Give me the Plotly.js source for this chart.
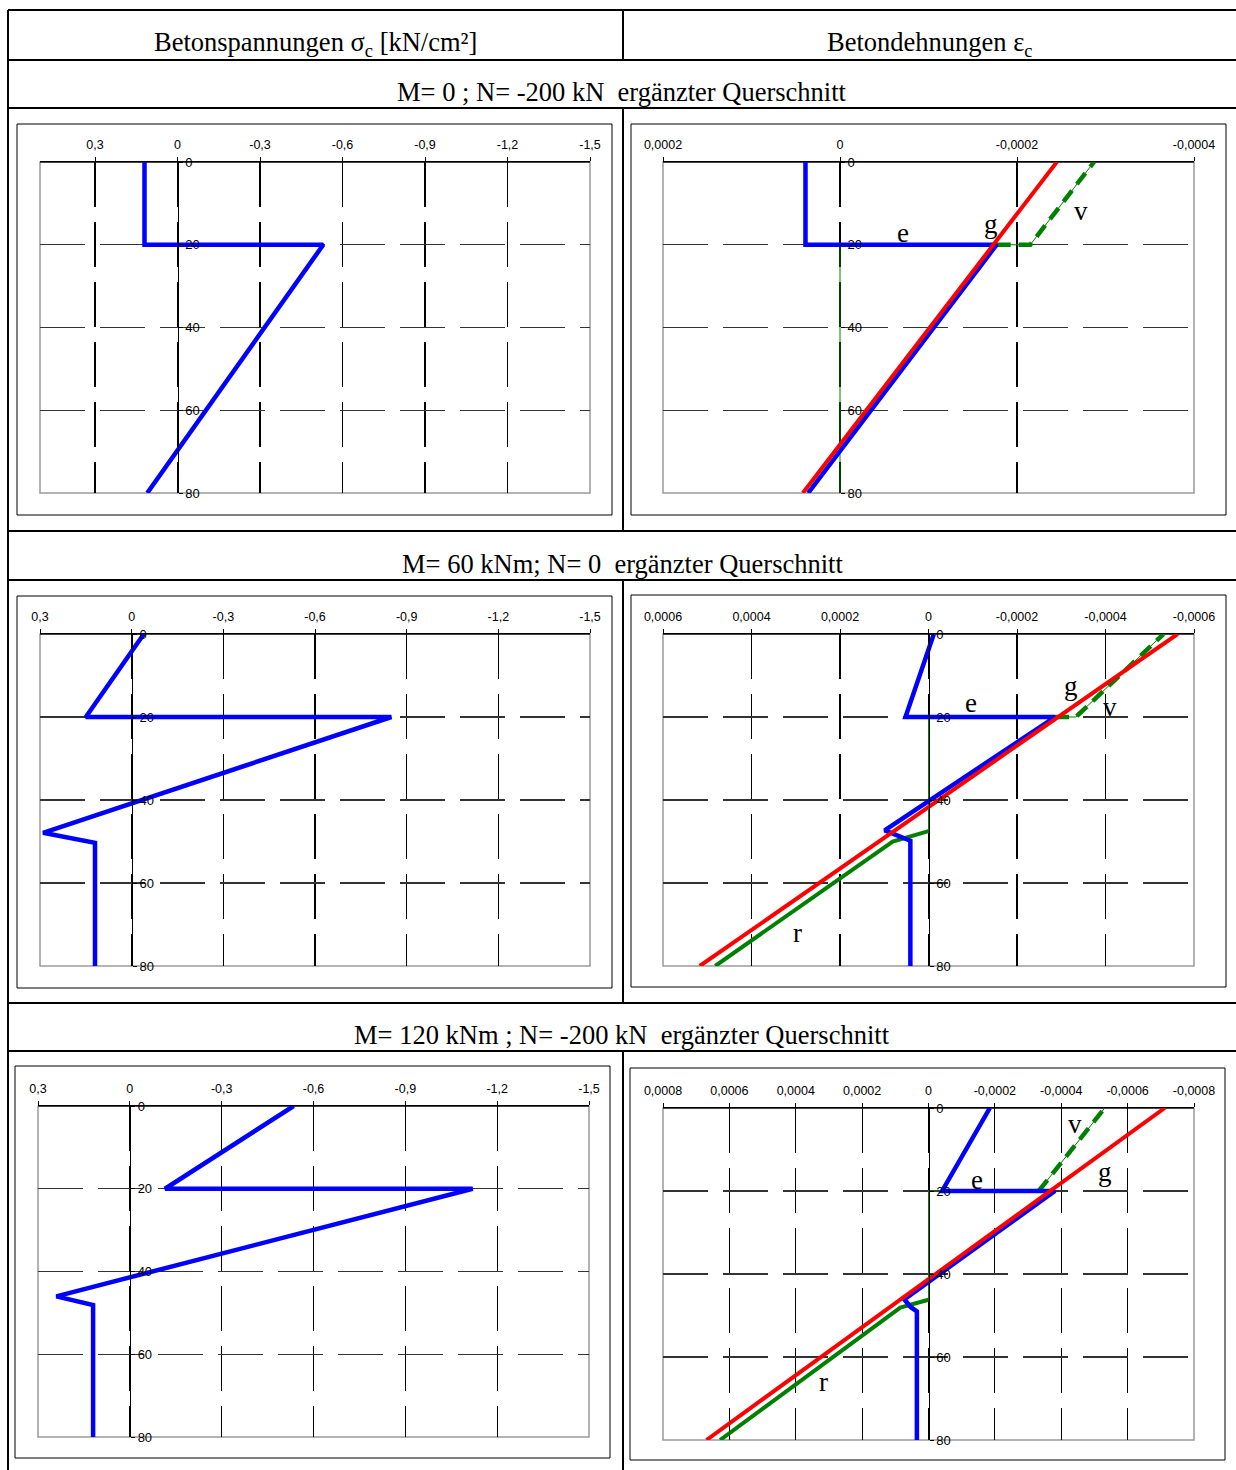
<!DOCTYPE html>
<html><head><meta charset="utf-8">
<script src="https://cdn.plot.ly/plotly-3.0.1.min.js"></script>
<style>html,body{margin:0;padding:0;background:#fff}#chart{width:1236px;height:1470px}</style>
</head><body><div id="chart"></div>
<script>
// ---------- tick labels ----------
const depthTicks = [0, 20, 40, 60, 80];
const depthTickText = ['0', '20', '40', '60', '80'];
const stressTickVals = [0.3, 0, -0.3, -0.6, -0.9, -1.2, -1.5];
const stressTickText = ['0,3', '0', '-0,3', '-0,6', '-0,9', '-1,2', '-1,5'];
const strainTickVals1 = [0.0002, 0, -0.0002, -0.0004];
const strainTickText1 = ['0,0002', '0', '-0,0002', '-0,0004'];
const strainTickVals2 = [0.0006, 0.0004, 0.0002, 0, -0.0002, -0.0004, -0.0006];
const strainTickText2 = ['0,0006', '0,0004', '0,0002', '0', '-0,0002', '-0,0004', '-0,0006'];
const strainTickVals3 = [0.0008, 0.0006, 0.0004, 0.0002, 0, -0.0002, -0.0004, -0.0006, -0.0008];
const strainTickText3 = ['0,0008', '0,0006', '0,0004', '0,0002', '0', '-0,0002', '-0,0004', '-0,0006', '-0,0008'];

// ---------- texts ----------
const headerLeft = 'Betonspannungen σ<sub>c</sub> [kN/cm²]';
const headerRight = 'Betondehnungen ε<sub>c</sub>';
const caseTitles = [
  'M= 0 ; N= -200 kN\u00a0 ergänzter Querschnitt',
  'M= 60 kNm; N= 0\u00a0 ergänzter Querschnitt',
  'M= 120 kNm ; N= -200 kN\u00a0 ergänzter Querschnitt'
];

// ---------- stresses sigma_c [kN/cm²] over depth [cm] ----------
const sigDepth1 = [0, 20, 20, 80];
const sigVal1   = [0.12, 0.12, -0.53, 0.11];
const sigDepth2 = [0, 20, 20, 47.9, 50.3, 80];
const sigVal2   = [-0.04, 0.15, -0.85, 0.29, 0.12, 0.12];
const sigDepth3 = [0, 20, 20, 46.0, 48.1, 80];
const sigVal3   = [-0.535, -0.115, -1.12, 0.24, 0.12, 0.12];

// ---------- strains, case 1 (M=0; N=-200) ----------
const eDepth1 = [0, 20, 20, 80];
const eVal1   = [3.9e-5, 3.9e-5, -1.77e-4, 3.6e-5];
const mDepth1 = [0, 19, 20, 20, 80];
const mVal1   = [3.9e-5, 3.9e-5, 3.6e-5, -1.77e-4, 3.6e-5];
const gDepth1 = [0, 80];
const gVal1   = [-2.45e-4, 4.2e-5];
const vDepth1 = [20, 20, 0];
const vVal1   = [-1.77e-4, -2.15e-4, -2.87e-4];
const rThinDepth1 = [20, 80];
const rThinVal1   = [0, 0];
const rDepth1 = [];
const rVal1   = [];

// ---------- strains, case 2 (M=60; N=0) ----------
const eDepth2 = [0, 20, 20, 47.3, 49.8, 80];
const eVal2   = [-1.2e-5, 5.2e-5, -2.86e-4, 9.9e-5, 4.1e-5, 4.1e-5];
const mDepth2 = [0, 20, 20, 47.3, 49.8, 80];
const mVal2   = [-1.2e-5, 5.0e-5, -2.86e-4, 9.9e-5, 4.1e-5, 4.1e-5];
const gDepth2 = [0, 80];
const gVal2   = [-5.63e-4, 5.17e-4];
const vDepth2 = [20, 20, 0];
const vVal2   = [-2.86e-4, -3.33e-4, -5.31e-4];
const rThinDepth2 = [20, 47.5];
const rThinVal2   = [0, 0];
const rDepth2 = [47.5, 50, 80];
const rVal2   = [0, 8.1e-5, 4.82e-4];

// ---------- strains, case 3 (M=120; N=-200) ----------
const eDepth3 = [0, 20, 20, 46.1, 48.0, 49.0, 80];
const eVal3   = [-1.85e-4, -4.1e-5, -3.81e-4, 7.3e-5, 5.3e-5, 3.5e-5, 3.5e-5];
const mDepth3 = [0, 20, 20, 46.1, 49.0, 80];
const mVal3   = [-1.83e-4, -4.3e-5, -3.81e-4, 7.3e-5, 3.5e-5, 3.5e-5];
const gDepth3 = [0, 80];
const gVal3   = [-7.12e-4, 6.69e-4];
const vDepth3 = [20, 0];
const vVal3   = [-3.32e-4, -5.31e-4];
const rThinDepth3 = [20, 20, 46.2];
const rThinVal3   = [-4.1e-5, 0, 0];
const rDepth3 = [46.2, 48.1, 80];
const rVal3   = [0, 8.5e-5, 6.28e-4];

// ---------- curve labels ----------
const labelText1 = ['e', 'g', 'v'];
const labelX1 = [-0.71e-4, -1.71e-4, -2.72e-4];
const labelY1 = [17.2, 15.0, 11.8];
const labelText2 = ['e', 'g', 'v', 'r'];
const labelX2 = [-0.96e-4, -3.23e-4, -4.11e-4, 2.96e-4];
const labelY2 = [16.6, 12.5, 17.6, 72.0];
const labelText3 = ['v', 'e', 'g', 'r'];
const labelX3 = [-4.4e-4, -1.45e-4, -5.33e-4, 3.16e-4];
const labelY3 = [3.9, 17.3, 15.4, 66.0];

// ================= layout helpers (pixel -> paper) =================
const W = 1236, H = 1470;
const fx = p => p / W;
const fy = p => 1 - p / H;

const panels = [
  {box: [17, 124, 612, 515],  plot: [40, 162, 590, 493],  range: [0.5, -1.5],        tv: stressTickVals,  tt: stressTickText,  showY: true},
  {box: [17, 596, 612, 988],  plot: [40, 634, 590, 966],  range: [0.3, -1.5],        tv: stressTickVals,  tt: stressTickText,  showY: true},
  {box: [15, 1066, 610, 1458], plot: [38, 1106, 589, 1437], range: [0.3, -1.5],      tv: stressTickVals,  tt: stressTickText,  showY: true},
  {box: [631, 124, 1226, 515], plot: [663, 162, 1194, 493], range: [0.0002, -0.0004], tv: strainTickVals1, tt: strainTickText1, showY: false},
  {box: [631, 595, 1226, 987], plot: [663, 634, 1194, 966], range: [0.0006, -0.0006], tv: strainTickVals2, tt: strainTickText2, showY: true},
  {box: [630, 1068, 1225, 1460], plot: [663, 1108, 1194, 1440], range: [0.0008, -0.0008], tv: strainTickVals3, tt: strainTickText3, showY: true}
];

const tickFont = {family: 'Liberation Sans, Arial, sans-serif', size: 12.5, color: '#000'};
const serif = 'Liberation Serif, Times New Roman, serif';

const layout = {
  width: W, height: H,
  margin: {l: 0, r: 0, t: 0, b: 0},
  paper_bgcolor: '#fff', plot_bgcolor: '#fff',
  showlegend: false,
  shapes: [], annotations: []
};

panels.forEach((p, i) => {
  const n = i === 0 ? '' : String(i + 1);
  const xd = [fx(p.plot[0]), fx(p.plot[2])];
  const yd = [fy(p.plot[3]), fy(p.plot[1])];
  const zeroPos = xd[0] + (0 - p.range[0]) / (p.range[1] - p.range[0]) * (xd[1] - xd[0]);
  layout['xaxis' + n] = {
    domain: xd, range: p.range, anchor: 'y' + n, side: 'top',
    tickvals: p.tv, ticktext: p.tt, tickfont: tickFont,
    ticks: 'outside', ticklen: 4, tickcolor: '#000', ticklabelstandoff: 3,
    showgrid: true, gridcolor: '#000', gridwidth: 1.2, griddash: '45px,15px',
    showline: true, linecolor: '#000', linewidth: 1.5, mirror: false,
    zeroline: false, fixedrange: true
  };
  layout['yaxis' + n] = {
    domain: yd, range: [80, 0], anchor: 'free', position: zeroPos, side: 'right',
    tickvals: depthTicks, ticktext: depthTickText, tickfont: {family: tickFont.family, size: 13, color: '#000'},
    ticks: 'outside', ticklen: 4, tickcolor: '#000',
    showgrid: true, gridcolor: '#333', gridwidth: 1.2, griddash: '45px,15px',
    showline: p.showY, linecolor: '#000', linewidth: 1.2,
    zeroline: false, fixedrange: true
  };
  layout.shapes.push({type: 'rect', xref: 'x' + n + ' domain', yref: 'y' + n + ' domain', x0: 0, x1: 1, y0: 0, y1: 1,
    line: {color: '#9a9a9a', width: 1.5}, layer: 'below'});
  layout.shapes.push({type: 'line', xref: 'x' + n + ' domain', yref: 'y' + n + ' domain', x0: 0, x1: 1, y0: 1, y1: 1,
    line: {color: '#222', width: 1.5}, layer: 'below'});
  layout.shapes.push({type: 'rect', xref: 'paper', yref: 'paper', x0: fx(p.box[0]), x1: fx(p.box[2]), y0: fy(p.box[3]), y1: fy(p.box[1]),
    line: {color: '#000', width: 1}});
});

// ---------- table lines ----------
const tl = (x0, y0, x1, y1) => layout.shapes.push({type: 'line', xref: 'paper', yref: 'paper',
  x0: fx(x0), y0: fy(y0), x1: fx(x1), y1: fy(y1), line: {color: '#000', width: 2}});
[10, 60, 108, 531, 580, 1003, 1051].forEach(y => tl(8, y, 1236, y));
tl(8, 10, 8, 1470);
tl(623, 10, 623, 60);
tl(623, 108, 623, 531);
tl(623, 580, 623, 1003);
tl(623, 1051, 623, 1470);

// ---------- header texts ----------
const headFont = {family: serif, size: 26.5, color: '#000'};
const ha = (txt, x, y) => layout.annotations.push({text: txt, xref: 'paper', yref: 'paper', x: fx(x), y: fy(y),
  xanchor: 'center', yanchor: 'middle', showarrow: false, font: headFont});
ha(headerLeft, 315, 44);
ha(headerRight, 930, 44);
ha(caseTitles[0], 622, 92);
ha(caseTitles[1], 622, 564);
ha(caseTitles[2], 622, 1035);

// ---------- traces ----------
const traces = [];
const line = (ax, xs, ys, color, width, dash) => traces.push({
  type: 'scatter', mode: 'lines', x: xs, y: ys, xaxis: 'x' + ax, yaxis: 'y' + ax,
  line: {color: color, width: width, dash: dash || 'solid'}, hoverinfo: 'skip'});

const BLUE = '#0000ff', RED = '#ff0000', GREEN = '#008000', MAG = '#ff00ff';

line('', sigVal1, sigDepth1, BLUE, 4.5);
line('2', sigVal2, sigDepth2, BLUE, 4.5);
line('3', sigVal3, sigDepth3, BLUE, 4.5);

const strainSets = [
  {ax: '4', e: [eVal1, eDepth1], m: [mVal1, mDepth1], g: [gVal1, gDepth1], v: [vVal1, vDepth1], rt: [rThinVal1, rThinDepth1], r: [rVal1, rDepth1],
   lab: [labelText1, labelX1, labelY1]},
  {ax: '5', e: [eVal2, eDepth2], m: [mVal2, mDepth2], g: [gVal2, gDepth2], v: [vVal2, vDepth2], rt: [rThinVal2, rThinDepth2], r: [rVal2, rDepth2],
   lab: [labelText2, labelX2, labelY2]},
  {ax: '6', e: [eVal3, eDepth3], m: [mVal3, mDepth3], g: [gVal3, gDepth3], v: [vVal3, vDepth3], rt: [rThinVal3, rThinDepth3], r: [rVal3, rDepth3],
   lab: [labelText3, labelX3, labelY3]}
];

strainSets.forEach(s => {
  line(s.ax, s.rt[0], s.rt[1], GREEN, 1);
  if (s.r[0].length) line(s.ax, s.r[0], s.r[1], GREEN, 4);
  line(s.ax, s.v[0], s.v[1], GREEN, 4.5, '14px,8px');
  line(s.ax, s.v[0], s.v[1], GREEN, 1);
  line(s.ax, s.m[0], s.m[1], MAG, 1.5);
  line(s.ax, s.e[0], s.e[1], BLUE, 4.5);
  line(s.ax, s.g[0], s.g[1], RED, 4);
  s.lab[0].forEach((t, k) => layout.annotations.push({text: t, xref: 'x' + s.ax, yref: 'y' + s.ax,
    x: s.lab[1][k], y: s.lab[2][k], xanchor: 'center', yanchor: 'middle', showarrow: false,
    font: {family: serif, size: 27, color: '#000'}}));
});

Plotly.newPlot('chart', traces, layout, {staticPlot: true, displayModeBar: false});
</script>
</body></html>
